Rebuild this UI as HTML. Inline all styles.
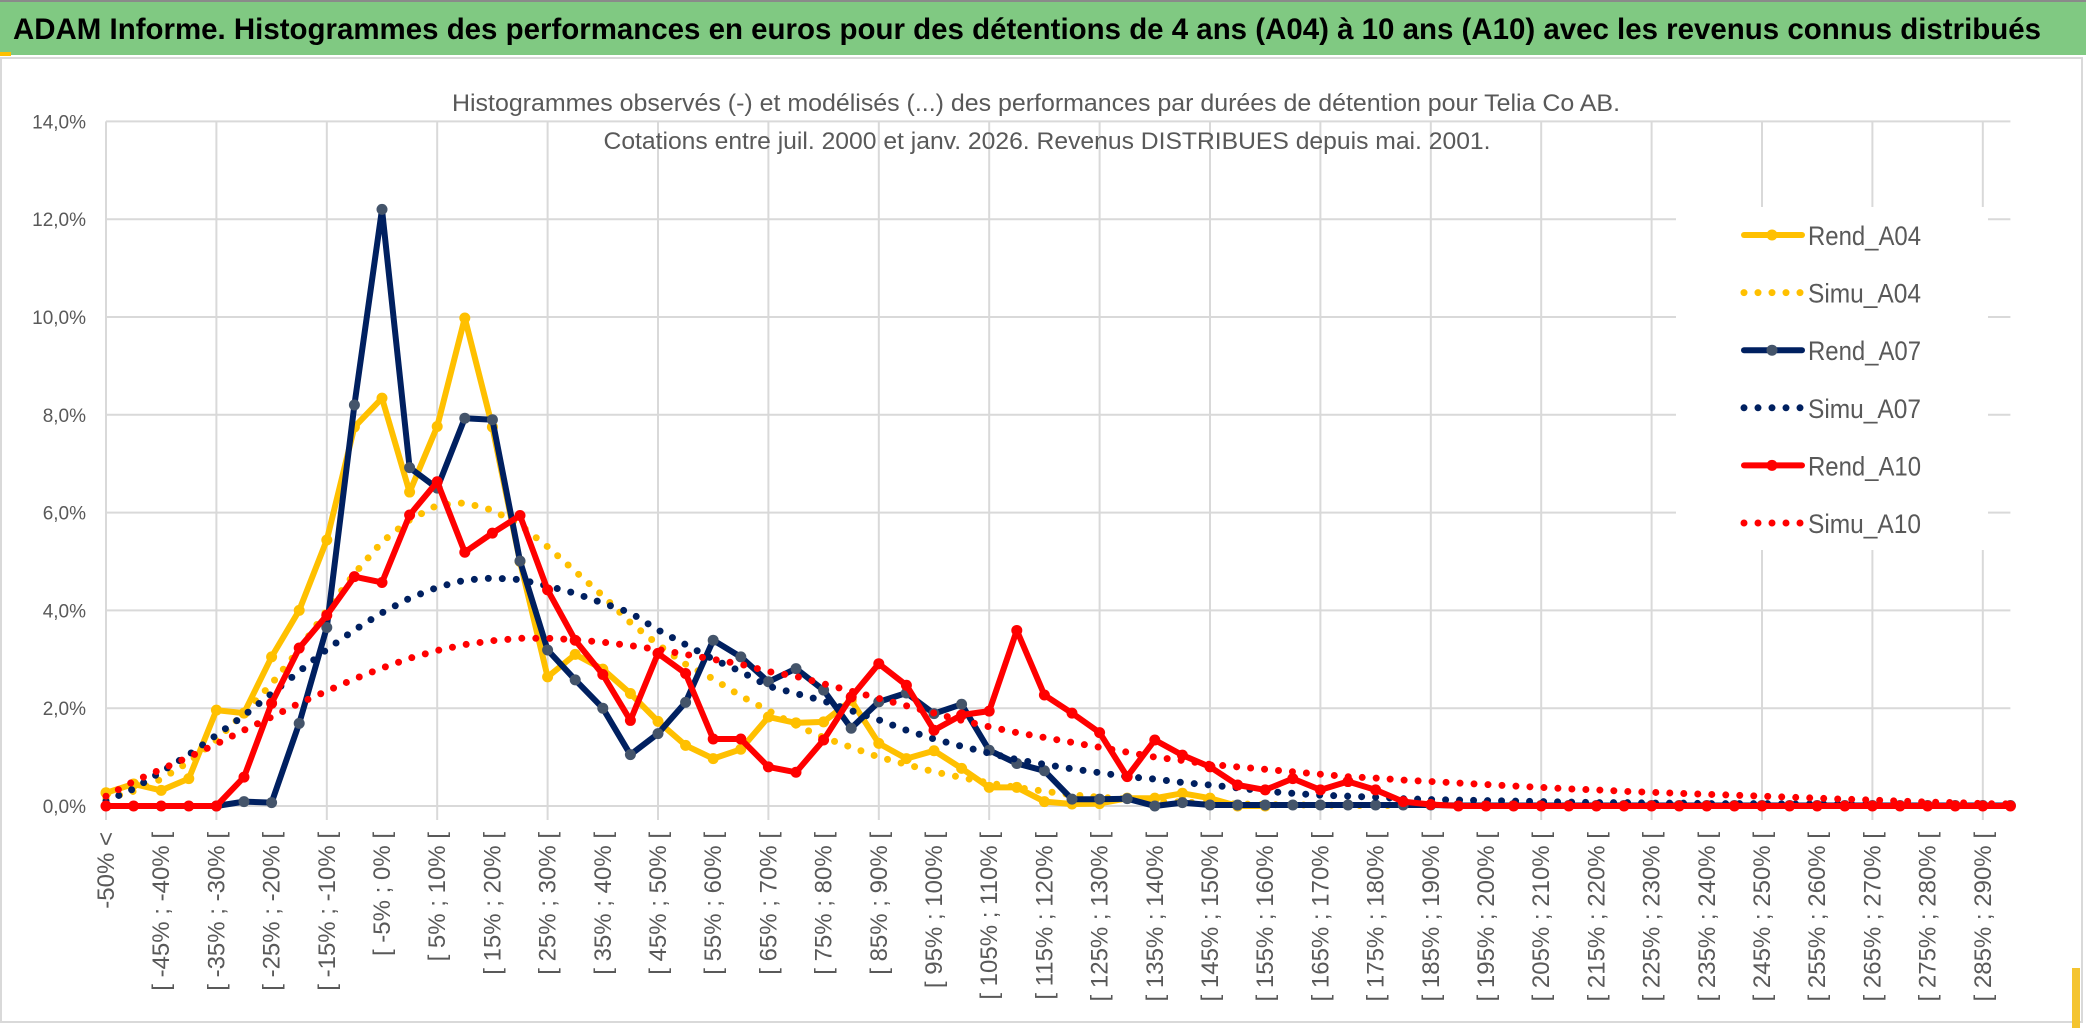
<!DOCTYPE html>
<html><head><meta charset="utf-8"><style>
html,body{margin:0;padding:0;background:#fff;}
svg{display:block;font-family:"Liberation Sans",sans-serif;}
</style></head><body>
<svg id="chart" width="2086" height="1033" viewBox="0 0 2086 1033" xmlns="http://www.w3.org/2000/svg">
<rect x="0" y="0" width="2086" height="1033" fill="#fff"/>
<rect x="1" y="58" width="2081" height="964" fill="#fff" stroke="#D9D9D9" stroke-width="2"/>
<rect x="0" y="2" width="2086" height="53" fill="#80C982"/>
<line x1="0" y1="1" x2="2086" y2="1" stroke="#8a8a8a" stroke-width="2"/>
<rect x="0" y="52" width="11" height="4" fill="#FFC000"/>
<rect x="2072" y="968" width="8" height="60" fill="#F4C430"/>
<text x="13" y="39" font-size="30" font-weight="bold" fill="#000" textLength="2028" lengthAdjust="spacingAndGlyphs">ADAM Informe. Histogrammes des performances en euros pour des détentions de 4 ans (A04) à 10 ans (A10) avec les revenus connus distribués</text>
<g id="grid"></g>
<g id="yaxis"></g>
<g id="xaxis"></g>
<g id="series"></g>
<text x="1036" y="111" font-size="24" fill="#595959" text-anchor="middle" textLength="1168" lengthAdjust="spacingAndGlyphs">Histogrammes observés (-) et modélisés (...) des performances par durées de détention pour Telia Co AB.</text>
<text x="1047" y="149" font-size="24" fill="#595959" text-anchor="middle" textLength="887" lengthAdjust="spacingAndGlyphs">Cotations entre juil. 2000 et janv. 2026. Revenus DISTRIBUES depuis mai. 2001.</text>
<g id="legend"></g>
</svg>
<script>
const NS="http://www.w3.org/2000/svg";
const categories=[];
for(let i=0;i<70;i++){categories.push(i===0?"-50% <":"[ "+(-50+5*(i-1))+"% ; "+(-45+5*(i-1))+"% [");}
const yTicks=[0,2,4,6,8,10,12,14];
const yTickLabels=["0,0%","2,0%","4,0%","6,0%","8,0%","10,0%","12,0%","14,0%"];
const rendA04=[0.27,0.45,0.32,0.56,1.96,1.9,3.05,4.0,5.44,7.75,8.34,6.42,7.76,9.98,7.75,5.0,2.64,3.1,2.8,2.3,1.73,1.24,0.97,1.16,1.82,1.7,1.72,2.16,1.28,0.97,1.13,0.77,0.38,0.38,0.09,0.04,0.05,0.16,0.16,0.26,0.16,0.0,0.0];
const simuA04=[0.15,0.3,0.55,0.9,1.35,1.9,2.5,3.2,4.0,4.75,5.4,5.85,6.15,6.2,6.05,5.75,5.3,4.8,4.3,3.75,3.3,2.9,2.6,2.25,1.95,1.65,1.4,1.2,1.0,0.85,0.7,0.58,0.47,0.38,0.3,0.23,0.18,0.14,0.1,0.08,0.06,0.04,0.03,0.02,0.02,0.01,0.01,0.01];
const rendA07=[null,null,null,null,0,0.09,0.07,1.69,3.65,8.2,12.2,6.92,6.5,7.93,7.9,5.01,3.19,2.58,2.0,1.05,1.48,2.12,3.39,3.05,2.54,2.81,2.37,1.59,2.13,2.31,1.89,2.08,1.14,0.87,0.72,0.14,0.14,0.15,0.0,0.07,0.02,0.02,0.02,0.02,0.02,0.02,0.02,0.02,0.02,0.01,0.01,0.01,0.01,0.01,0.01,0.01,0.01,0.01,0.01,0.01,0.01,0.01,0.01,0.01,0.01,0.01,0.01,0.01,0.01,0.01];
const simuA07=[0.1,0.35,0.7,1.05,1.45,1.85,2.3,2.75,3.2,3.6,3.95,4.25,4.47,4.62,4.66,4.63,4.5,4.35,4.15,3.95,3.6,3.3,3.0,2.75,2.45,2.3,2.15,1.95,1.76,1.55,1.37,1.22,1.08,0.95,0.85,0.76,0.68,0.6,0.55,0.48,0.43,0.37,0.3,0.26,0.22,0.2,0.18,0.15,0.13,0.12,0.11,0.1,0.09,0.08,0.07,0.07,0.06,0.06,0.05,0.05,0.05,0.04,0.04,0.04,0.03,0.03,0.03,0.03,0.03,0.03];
const rendA10=[0,0,0,0,0,0.59,2.1,3.23,3.9,4.69,4.57,5.95,6.63,5.19,5.58,5.94,4.42,3.39,2.69,1.75,3.12,2.71,1.37,1.37,0.8,0.69,1.35,2.23,2.91,2.47,1.55,1.86,1.94,3.59,2.27,1.9,1.5,0.6,1.35,1.04,0.8,0.43,0.33,0.56,0.33,0.5,0.33,0.09,0.03,0,0,0,0,0,0,0,0,0,0,0,0,0,0,0,0,0,0,0,0,0];
const simuA10=[0.2,0.5,0.75,1.0,1.27,1.55,1.82,2.1,2.35,2.6,2.82,3.02,3.18,3.3,3.38,3.43,3.43,3.4,3.35,3.28,3.2,3.1,3.0,2.9,2.75,2.65,2.5,2.35,2.2,2.05,1.9,1.75,1.62,1.5,1.4,1.3,1.2,1.1,1.0,0.93,0.85,0.8,0.75,0.7,0.65,0.6,0.57,0.53,0.5,0.47,0.44,0.41,0.38,0.35,0.33,0.3,0.28,0.26,0.24,0.22,0.2,0.18,0.16,0.14,0.12,0.1,0.08,0.07,0.05,0.04];

const X0=106,DX=27.6,Y0=806,PY=48.9;
const xs=i=>X0+DX*i;
const ys=v=>Y0-v*PY;
function mk(tag,attrs,parent){const e=document.createElementNS(NS,tag);for(const k in attrs)e.setAttribute(k,attrs[k]);parent.appendChild(e);return e;}
const grid=document.getElementById('grid'),yaxis=document.getElementById('yaxis'),xaxis=document.getElementById('xaxis'),series=document.getElementById('series'),legend=document.getElementById('legend');
yTicks.forEach((t,k)=>{
  const l=mk('line',{x1:xs(0),x2:xs(69),y1:ys(t),y2:ys(t),stroke:'#D9D9D9','stroke-width':2},grid);
  
  
  const tx=mk('text',{x:86,y:ys(t)+7,'font-size':19,fill:'#595959','text-anchor':'end'},yaxis);
  tx.textContent=yTickLabels[k];
  
  
});
for(let i=0;i<70;i+=4){
  const l=mk('line',{x1:xs(i),x2:xs(i),y1:ys(14),y2:Y0+14,stroke:'#D9D9D9','stroke-width':2},grid);
  
  
}
categories.forEach((c,i)=>{
  if(i%2!==0)return;
  const x=xs(i)+8,y=832;
  const tx=mk('text',{x:x,y:y,'font-size':24,fill:'#595959','text-anchor':'end',transform:`rotate(-90 ${x} ${y})`},xaxis);
  tx.textContent=c;
  
  
});
function pathOf(arr){let d='',pen=false;arr.forEach((v,i)=>{if(v===null){pen=false;return;}d+=(pen?'L':'M')+xs(i).toFixed(1)+' '+ys(v).toFixed(1);pen=true;});return d;}
function drawRend(arr,color,mcol,name){
  const g=mk('g',{},series);
  
  
  mk('path',{d:pathOf(arr),fill:'none',stroke:color,'stroke-width':6,'stroke-linejoin':'round','stroke-linecap':'round'},g);
  arr.forEach((v,i)=>{if(v===null)return;
    const c=mk('circle',{cx:xs(i),cy:ys(v),r:5.5,fill:mcol},g);
    
    
  });
}
function drawSimu(arr,color,name){
  const p=mk('path',{d:pathOf(arr),fill:'none',stroke:color,'stroke-width':7,'stroke-dasharray':'0 14','stroke-linecap':'round'},series);
  
  
}
drawRend(rendA04,'#FFC000','#FFC000','rend-a04-line');
drawSimu(simuA04,'#FFC000','simu-a04-line');
drawRend(rendA07,'#002060','#44546A','rend-a07-line');
drawSimu(simuA07,'#002060','simu-a07-line');
drawRend(rendA10,'#FF0000','#FF0000','rend-a10-line');
drawSimu(simuA10,'#FF0000','simu-a10-line');

mk('rect',{x:1676,y:207,width:312,height:343,fill:'#fff'},legend);
const legNames=['Rend_A04','Simu_A04','Rend_A07','Simu_A07','Rend_A10','Simu_A10'];
const legColors=['#FFC000','#FFC000','#002060','#002060','#FF0000','#FF0000'];
const legMarker=['#FFC000',null,'#44546A',null,'#FF0000',null];
legNames.forEach((n,k)=>{
  const y=235+57.6*k;
  const g=mk('g',{},legend);
  
  
  if(legMarker[k]){
    mk('line',{x1:1744,x2:1802,y1:y,y2:y,stroke:legColors[k],'stroke-width':6,'stroke-linecap':'round'},g);
    mk('circle',{cx:1772,cy:y,r:5.5,fill:legMarker[k]},g);
  } else {
    mk('line',{x1:1744,x2:1802,y1:y,y2:y,stroke:legColors[k],'stroke-width':7,'stroke-dasharray':'0 14','stroke-linecap':'round'},g);
  }
  const t=mk('text',{x:1808,y:y+10,'font-size':27,fill:'#595959',textLength:113,lengthAdjust:'spacingAndGlyphs'},g);
  t.textContent=n;
});
</script>
</body></html>
